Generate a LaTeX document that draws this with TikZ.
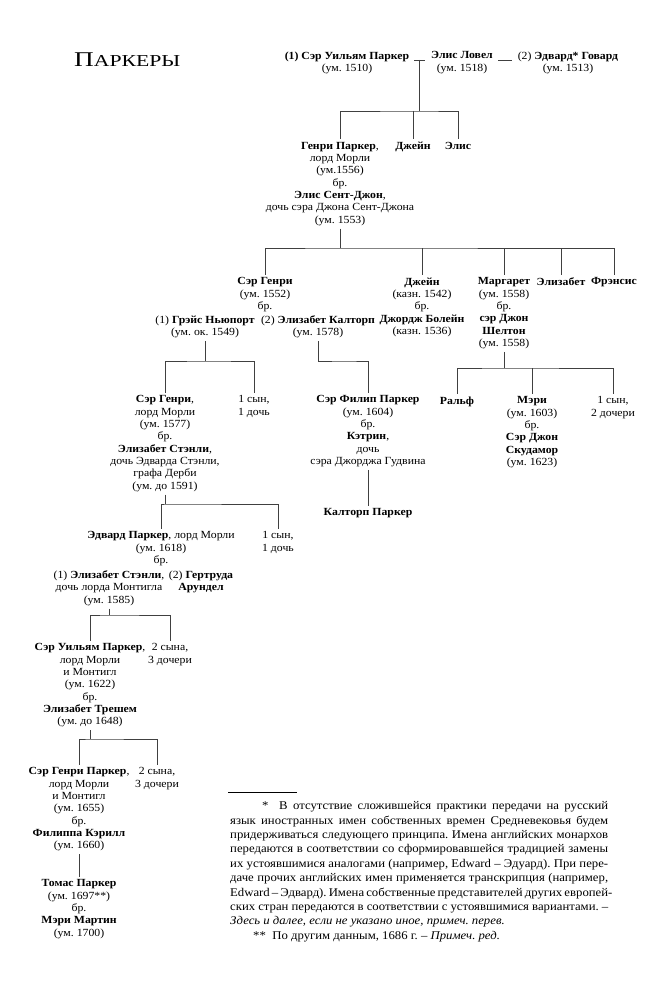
\documentclass[tikz,border=0pt]{standalone}
\usepackage{fontspec}
\setmainfont{Liberation Serif}[FakeStretch=1.08]
\newfontfamily\titlefont{Liberation Serif}[FakeStretch=1.3]
\frenchspacing

\newcommand{\treefont}{\fontsize{10.9}{12.3}\selectfont}
\newcommand{\notefont}{\fontsize{11.8}{14.4}\selectfont}

\begin{document}
\begin{tikzpicture}[x=1pt, y=-1pt,
  pn/.style={anchor=north,align=center,inner sep=3pt,font=\treefont},
  ln/.style={line width=0.8pt,black!75},
  wed/.style={ln,shorten <=2pt,shorten >=3pt}]
  \useasboundingbox (0,0) rectangle (667,1000);
  %--- title ---
  \node[anchor=base west,inner sep=0pt] (title) at (74,67)
    {\titlefont\fontsize{21}{21}\selectfont П\fontsize{16.7}{16.7}\selectfont АРКЕРЫ};
  %--- William Parker and Alice Lovel ---
  \node[pn] (william) at (347,48.5) {\textbf{(1) Сэр Уильям Паркер}\\(ум. 1510)};
  \node[pn] (alice)   at (462,48.5) {\textbf{Элис Ловел}\\(ум. 1518)};
  \node[pn] (howard)  at (568,48.5) {(2) \textbf{Эдвард* Говард}\\(ум. 1513)};
  \coordinate (m1) at (419,60);
  \draw[wed] (william.east |- m1) -- (alice.west |- m1);
  \draw[wed] (alice.east |- m1) -- (howard.west |- m1);
  \node[pn] (henry1) at (340,139) {\textbf{Генри Паркер},\\лорд Морли\\(ум.1556)\\бр.\\
    \textbf{Элис Сент-Джон},\\дочь сэра Джона Сент-Джона\\(ум. 1553)};
  \node[pn] (jane1) at (413,139) {\textbf{Джейн}};
  \node[pn] (elis1) at (458,139) {\textbf{Элис}};
  \coordinate (j1) at (419,111);
  \draw[ln] (m1) -- (j1);
  \draw[ln] (henry1.north) |- (j1) -| (elis1.north);
  \draw[ln] (j1 -| jane1.north) -- (jane1.north);
  %--- children of Henry Parker ---
  \node[pn] (sirhenry) at (265,274.5) {\textbf{Сэр Генри}\\(ум. 1552)\\бр.};
  \node[pn] (grace)    at (205,312.5) {(1) \textbf{Грэйс Ньюпорт}\\(ум. ок. 1549)};
  \node[pn] (calthorpe) at (318,312.5) {(2) \textbf{Элизабет Калторп}\\(ум. 1578)};
  \node[pn] (jane2) at (422,274.5) {\textbf{Джейн}\\(казн. 1542)\\бр.\\\textbf{Джордж Болейн}\\(казн. 1536)};
  \node[pn] (margaret) at (504,274.5) {\textbf{Маргарет}\\(ум. 1558)\\бр.\\\textbf{сэр Джон}\\\textbf{Шелтон}\\(ум. 1558)};
  \node[pn] (elizabeth2) at (561,274.5) {\textbf{Элизабет}};
  \node[pn] (frances)    at (614,274.5) {\textbf{Фрэнсис}};
  \coordinate (j2) at (344,248);
  \draw[ln] (henry1.south) -- (henry1.south |- j2);
  \draw[ln] (sirhenry.north) |- (j2) -| (frances.north);
  \foreach \c in {jane2,margaret,elizabeth2}
    \draw[ln] (j2 -| \c.north) -- (\c.north);
  %--- Grace Newport's line ---
  \node[pn] (henry3) at (165,392.5) {\textbf{Сэр Генри},\\лорд Морли\\(ум. 1577)\\бр.\\
    \textbf{Элизабет Стэнли},\\дочь Эдварда Стэнли,\\графа Дерби\\(ум. до 1591)};
  \node[pn] (other1) at (254,392.5) {1 сын,\\1 дочь};
  \coordinate (j3) at (208,361);
  \draw[ln] (grace.south) -- (grace.south |- j3);
  \draw[ln] (henry3.north) |- (j3) -| (other1.north);
  %--- Elizabeth Calthorpe's line ---
  \node[pn] (philip) at (368,392.5) {\textbf{Сэр Филип Паркер}\\(ум. 1604)\\бр.\\\textbf{Кэтрин},\\дочь\\сэра Джорджа Гудвина};
  \node[pn] (calthorpeP) at (368,505.5) {\textbf{Калторп Паркер}};
  \coordinate (k3) at (345,361);
  \draw[ln] (calthorpe.south) |- (k3) -| (philip.north);
  \draw[ln] (philip.south) -- (calthorpeP.north);
  %--- Margaret and John Shelton ---
  \node[pn] (ralph) at (457,393.5) {\textbf{Ральф}};
  \node[pn] (mary)  at (532,393.5) {\textbf{Мэри}\\(ум. 1603)\\бр.\\\textbf{Сэр Джон}\\\textbf{Скудамор}\\(ум. 1623)};
  \node[pn] (other2) at (613,393.5) {1 сын,\\2 дочери};
  \coordinate (j4) at (506,368);
  \draw[ln] (margaret.south) -- (margaret.south |- j4);
  \draw[ln] (ralph.north) |- (j4) -| (other2.north);
  \draw[ln] (j4 -| mary.north) -- (mary.north);
  %--- Edward Parker ---
  \node[pn] (edward) at (161,528.5) {\textbf{Эдвард Паркер}, лорд Морли\\(ум. 1618)\\бр.};
  \node[pn] (other3) at (278,528.5) {1 сын,\\1 дочь};
  \node[pn] (stanley)  at (109,567.5) {(1) \textbf{Элизабет Стэнли},\\дочь лорда Монтигла\\(ум. 1585)};
  \node[pn] (gertrude) at (201,567.5) {(2) \textbf{Гертруда}\\\textbf{Арундел}};
  \coordinate (j5) at (166,504);
  \draw[ln] (henry3.south) -- (henry3.south |- j5);
  \draw[ln] (edward.north) |- (j5) -| (other3.north);
  %--- William Parker, lord Monteagle ---
  \node[pn] (william2) at (90,640.5) {\textbf{Сэр Уильям Паркер},\\лорд Морли\\и Монтигл\\(ум. 1622)\\бр.\\
    \textbf{Элизабет Трешем}\\(ум. до 1648)};
  \node[pn] (other4) at (170,640.5) {2 сына,\\3 дочери};
  \coordinate (j6) at (109,615);
  \draw[ln] (stanley.south) -- (stanley.south |- j6);
  \draw[ln] (william2.north) |- (j6) -| (other4.north);
  %--- Henry Parker and Thomas Parker ---
  \node[pn] (henry4) at (79,764.5) {\textbf{Сэр Генри Паркер},\\лорд Морли\\и Монтигл\\(ум. 1655)\\бр.\\
    \textbf{Филиппа Кэрилл}\\(ум. 1660)};
  \node[pn] (other5) at (157,764.5) {2 сына,\\3 дочери};
  \coordinate (j7) at (91,739);
  \draw[ln] (william2.south) -- (william2.south |- j7);
  \draw[ln] (henry4.north) |- (j7) -| (other5.north);
  \node[pn] (thomas) at (79,876.5) {\textbf{Томас Паркер}\\(ум. 1697**)\\бр.\\\textbf{Мэри Мартин}\\(ум. 1700)};
  \draw[ln] (henry4.south) -- (thomas.north);
  %--- footnotes ---
  \draw[line width=0.6pt] (228,792) -- (297,792);
  \node[anchor=north west,inner sep=0pt,align=left,font=\notefont] (notes) at (230,801.5) {%
    \makebox[378pt][s]{\hspace*{32pt}*\ \ В отсутствие сложившейся практики передачи на русский}\\
    \makebox[378pt][s]{язык иностранных имен собственных времен Средневековья будем}\\
    \makebox[378pt][s]{придерживаться следующего принципа. Имена английских монархов}\\
    \makebox[378pt][s]{передаются в соответствии со сформировавшейся традицией замены}\\
    \makebox[378pt][s]{их устоявшимися аналогами (например, Edward – Эдуард). При пере-}\\
    \makebox[378pt][s]{даче прочих английских имен применяется транскрипция (например,}\\
    \makebox[378pt][s]{Edward – Эдвард). Имена собственные представителей других европей-}\\
    \makebox[378pt][s]{ских стран передаются в соответствии с устоявшимися вариантами. –}\\
    \textit{Здесь и далее, если не указано иное, примеч. перев.}\\
    \hspace*{23pt}**\ \ По другим данным, 1686 г. – \textit{Примеч. ред.}};
\end{tikzpicture}
\end{document}
